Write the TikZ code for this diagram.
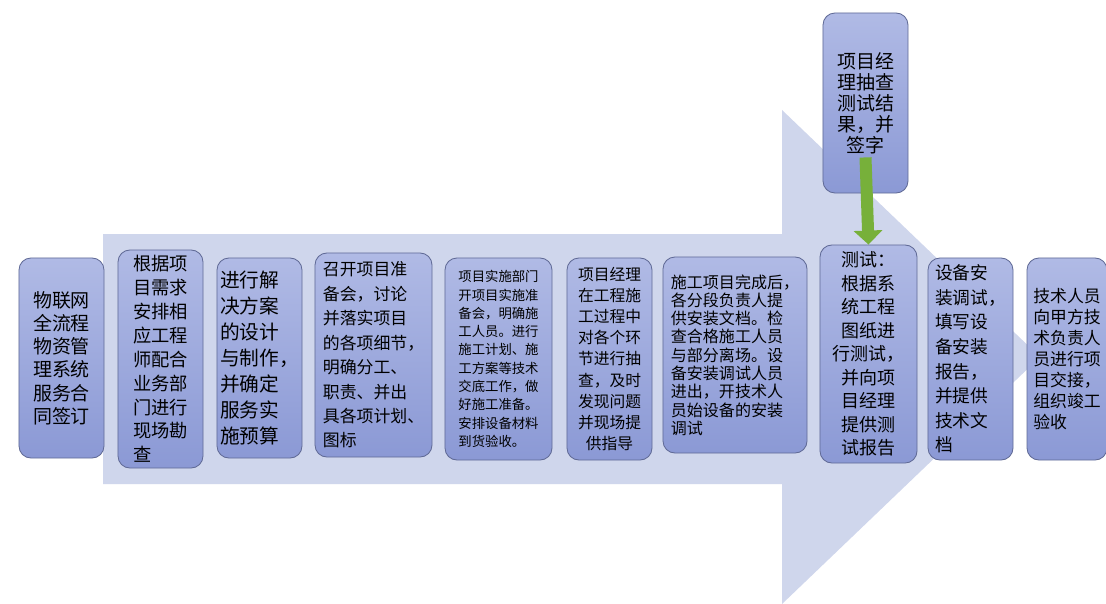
\documentclass[tikz,border=0pt]{standalone}
\usepackage{fontspec}
\newfontfamily\cjk{Noto Sans CJK SC}
\usetikzlibrary{arrows.meta}
\definecolor{flowpale}{RGB}{207,214,236}
\definecolor{boxtop}{RGB}{176,186,229}
\definecolor{boxbot}{RGB}{139,153,213}
\definecolor{boxline}{RGB}{96,106,150}
\definecolor{checkgreen}{RGB}{119,176,58}
\tikzset{
	procbox/.style={draw=boxline, line width=0.6pt, rounded corners=0.3cm,
		top color=boxtop, bottom color=boxbot, inner sep=0pt, text=black},
	txt/.style={font=\cjk\fontsize{#1}{#1*1.3}\selectfont}
}
\begin{document}
\begin{tikzpicture}[x=0.025cm, y=-0.025cm]
			\useasboundingbox (0,0) rectangle (1106,604);
			\fill[white] (0,0) rectangle (1106,604);
			\fill[flowpale] (103,234) -- (782,234) -- (782,110) -- (1040,357)
				-- (782,604) -- (782,484) -- (103,484) -- cycle;

			\node[procbox, minimum width=2.125cm, minimum height=5cm, align=center,
				font=\cjk\fontsize{13.5}{16.5}\selectfont] (n1) at (61.5,358)
				{物联网\\全流程\\物资管\\理系统\\服务合\\同签订};
			\node[procbox, minimum width=2.125cm, minimum height=5.45cm, align=left,
				font=\cjk\fontsize{13}{17}\selectfont] (n2) at (160.5,359)
				{根据项\\目需求\\安排相\\应工程\\师配合\\业务部\\门进行\\现场勘\\查};
			\node[procbox, minimum width=2.125cm, minimum height=5cm, align=left,
				font=\cjk\fontsize{14}{18.5}\selectfont] (n3) at (259.5,358)
				{进行解\\决方案\\的设计\\与制作，\\并确定\\服务实\\施预算};
			\node[procbox, minimum width=2.925cm, minimum height=5.1cm, align=left,
				font=\cjk\fontsize{12}{17.4}\selectfont] (n4) at (373.5,355)
				{召开项目准\\备会，讨论\\并落实项目\\的各项细节，\\明确分工、\\职责、并出\\具各项计划、\\图标};
			\node[procbox, minimum width=2.675cm, minimum height=5.05cm, align=left,
				font=\cjk\fontsize{9.5}{13}\selectfont] (n5) at (498.5,359)
				{项目实施部门\\开项目实施准\\备会，明确施\\工人员。进行\\施工计划、施\\工方案等技术\\交底工作，做\\好施工准备。\\安排设备材料\\到货验收。};
			\node[procbox, minimum width=2.125cm, minimum height=5.05cm, align=center,
				font=\cjk\fontsize{11.2}{15}\selectfont] (n6) at (609.5,359)
				{项目经理\\在工程施\\工过程中\\对各个环\\节进行抽\\查，及时\\发现问题\\并现场提\\供指导};
			\node[procbox, minimum width=3.6cm, minimum height=4.9cm, align=left,
				font=\cjk\fontsize{11.4}{13}\selectfont] (n7) at (735,355)
				{施工项目完成后，\\各分段负责人提\\供安装文档。检\\查合格施工人员\\与部分离场。设\\备安装调试人员\\进出，开技术人\\员始设备的安装\\调试};
			\node[procbox, minimum width=2.425cm, minimum height=5.45cm, align=center,
				font=\cjk\fontsize{12.8}{16.7}\selectfont] (test) at (868.5,354)
				{测试：\\根据系\\统工程\\图纸进\\行测试，\\并向项\\目经理\\提供测\\试报告};
			\node[procbox, minimum width=2.125cm, minimum height=5.05cm, align=left,
				font=\cjk\fontsize{12.6}{17.5}\selectfont] (n9) at (970.5,359)
				{设备安\\装调试，\\填写设\\备安装\\报告，\\并提供\\技术文\\档};
			\node[procbox, minimum width=2cm, minimum height=5.05cm, align=left,
				font=\cjk\fontsize{12}{15}\selectfont] (n10) at (1067,359)
				{技术人员\\向甲方技\\术负责人\\员进行项\\目交接，\\组织竣工\\验收};
			\node[procbox, minimum width=2.125cm, minimum height=4.5cm, align=center,
				font=\cjk\fontsize{13.5}{15}\selectfont] (topchk) at (865.5,103)
				{项目经\\理抽查\\测试结\\果，并\\签字};

			\draw[checkgreen, line width=0.3cm,
				-{Triangle[width=0.7cm, length=0.35cm]}]
				([yshift=0.9cm]topchk.south) -- (test.north);
\end{tikzpicture}
\end{document}
